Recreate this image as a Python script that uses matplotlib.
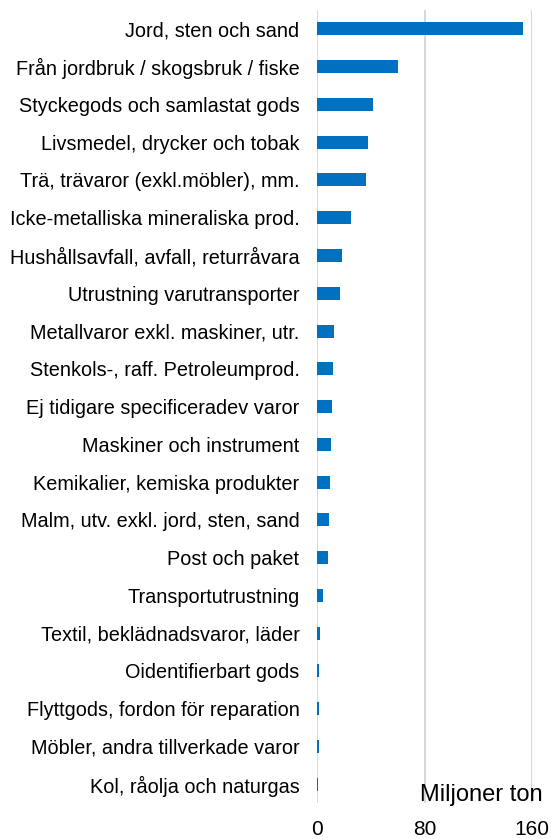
import matplotlib
matplotlib.use("Agg")
import matplotlib.pyplot as plt

categories = [
    "Jord, sten och sand",
    "Från jordbruk / skogsbruk / fiske",
    "Styckegods och samlastat gods",
    "Livsmedel, drycker och tobak",
    "Trä, trävaror (exkl.möbler), mm.",
    "Icke-metalliska mineraliska prod.",
    "Hushållsavfall, avfall, returråvara",
    "Utrustning varutransporter",
    "Metallvaror exkl. maskiner, utr.",
    "Stenkols-, raff. Petroleumprod.",
    "Ej tidigare specificeradev varor",
    "Maskiner och instrument",
    "Kemikalier, kemiska produkter",
    "Malm, utv. exkl. jord, sten, sand",
    "Post och paket",
    "Transportutrustning",
    "Textil, beklädnadsvaror, läder",
    "Oidentifierbart gods",
    "Flyttgods, fordon för reparation",
    "Möbler, andra tillverkade varor",
    "Kol, råolja och naturgas",
]
values = [153.2, 60.0, 41.7, 37.5, 36.0, 25.0, 18.3, 16.8, 12.1, 11.3, 11.1,
          9.9, 9.6, 8.4, 8.2, 4.4, 2.1, 1.1, 1.0, 0.9, 0.3]
xticks = [0, 80, 160]
unit_label = "Miljoner ton"

plt.rcParams['font.family'] = ['Liberation Sans', 'DejaVu Sans']

fig = plt.figure(figsize=(5.54, 8.39), dpi=100)
ax = fig.add_axes([0.573, 0.0429, 0.9598 - 0.573, 0.988 - 0.0429])

y = list(range(len(categories)))
ax.barh(y, values, height=0.345, color="#0070C0", zorder=3)
ax.set_ylim(len(categories) - 0.5, -0.5)
ax.set_xlim(0, 160)
ax.set_yticks(y)
ax.set_yticklabels(categories, fontsize=14.3, color="#000000")
ax.set_xticks(xticks)
ax.set_xticklabels([str(t) for t in xticks], fontsize=15)
ax.tick_params(axis='both', length=0)
ax.tick_params(axis='y', pad=13)
ax.tick_params(axis='x', pad=12)
for s in ax.spines.values():
    s.set_visible(False)
ax.xaxis.grid(True, color="#d9d9d9", linewidth=1.5, zorder=0)
ax.set_axisbelow(True)

fig.text(543 / 554, 1 - 795 / 839, unit_label, ha='right', va='center', fontsize=17)

fig.savefig("out.png", dpi=100)
